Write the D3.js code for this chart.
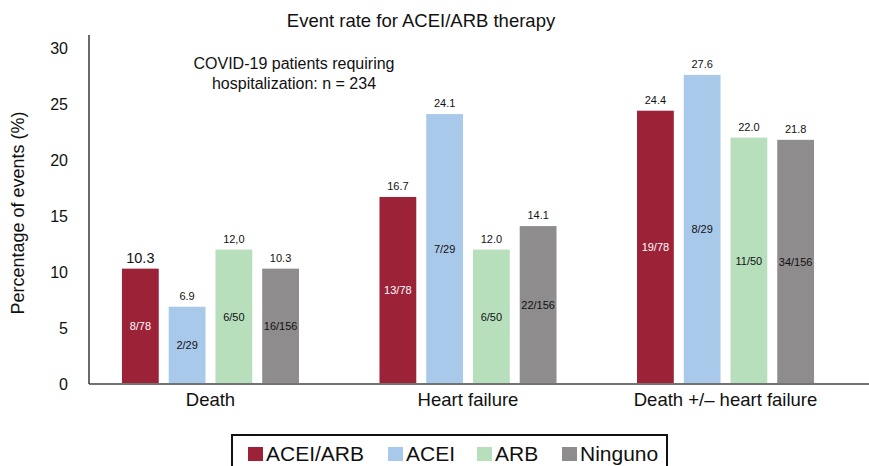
<!DOCTYPE html>
<html>
<head>
<meta charset="utf-8">
<script src="https://cdn.jsdelivr.net/npm/d3@7"></script>
<style>
  body { margin: 0; background: #fff; }
  text { font-family: "Liberation Sans", Arial, sans-serif; fill: #111; }
</style>
</head>
<body>
<svg width="869" height="466"></svg>
<script>
// data
let categories = ["Death", "Heart failure", "Death +/\u2013 heart failure"];
let series = ["ACEI/ARB", "ACEI", "ARB", "Ninguno"];
let colors = ["#9c2238", "#a9c9ea", "#b8dfbc", "#8e8c8d"];
// values[category][series]
let values = [
  [10.3, 6.9, 12.0, 10.3],
  [16.7, 24.1, 12.0, 14.1],
  [24.4, 27.6, 22.0, 21.8]
];
let valueLabels = [
  ["10.3", "6.9", "12,0", "10.3"],
  ["16.7", "24.1", "12.0", "14.1"],
  ["24.4", "27.6", "22.0", "21.8"]
];
let counts = [
  ["8/78", "2/29", "6/50", "16/156"],
  ["13/78", "7/29", "6/50", "22/156"],
  ["19/78", "8/29", "11/50", "34/156"]
];
let yTicks = [0, 5, 10, 15, 20, 25, 30];

let svg = d3.select("svg");
let plotLeft = 89, plotBottom = 384, plotTop = 48;

let y = d3.scaleLinear().domain([0, 30]).range([plotBottom, plotTop]);
let x0 = d3.scaleBand().domain(categories).range([plotLeft, 847])
  .paddingInner(0.3126).paddingOuter(0.128);
let x1 = d3.scaleBand().domain(series).range([0, x0.bandwidth()])
  .paddingInner(0.213).paddingOuter(0);

// title
svg.append("text").attr("x", 421).attr("y", 27)
  .attr("text-anchor", "middle").style("font-size", "18.5px")
  .text("Event rate for ACEI/ARB therapy");

// annotation
svg.append("text").attr("x", 294).attr("y", 69)
  .attr("text-anchor", "middle").style("font-size", "16px")
  .text("COVID-19 patients requiring");
svg.append("text").attr("x", 294).attr("y", 89)
  .attr("text-anchor", "middle").style("font-size", "16px")
  .text("hospitalization: n = 234");

// y axis
let yAxis = svg.append("g").attr("transform", "translate(" + plotLeft + ",0)")
  .call(d3.axisLeft(y).tickValues(yTicks).tickSize(0).tickPadding(21));
yAxis.select(".domain").remove();
yAxis.selectAll("text").style("font-size", "16px").style("fill", "#111")
  .style("font-family", "Liberation Sans, Arial, sans-serif");
svg.append("line").attr("x1", plotLeft).attr("x2", plotLeft).attr("y1", 35).attr("y2", plotBottom)
  .attr("stroke", "#444").attr("stroke-width", 1.6);

// x axis line and category labels
svg.append("line").attr("x1", plotLeft).attr("x2", 869).attr("y1", plotBottom).attr("y2", plotBottom)
  .attr("stroke", "#444").attr("stroke-width", 1.6);
svg.append("g").selectAll("text").data(categories).enter().append("text")
  .attr("x", (d) => x0(d) + x0.bandwidth() / 2)
  .attr("y", 406)
  .attr("text-anchor", "middle").style("font-size", "18.5px")
  .text((d) => d);

// y label
svg.append("text")
  .attr("transform", "translate(24,213) rotate(-90)")
  .attr("text-anchor", "middle").style("font-size", "18px")
  .text("Percentage of events (%)");

// bars
let groups = svg.append("g").selectAll("g").data(categories).enter().append("g")
  .attr("transform", (d) => "translate(" + x0(d) + ",0)");

groups.each(function (c, ci) {
  let g = d3.select(this);
  series.forEach(function (s, si) {
    let v = values[ci][si];
    g.append("rect")
      .attr("x", x1(s)).attr("width", x1.bandwidth())
      .attr("y", y(v)).attr("height", plotBottom - y(v) - 1)
      .attr("fill", colors[si]);
    let big = ci === 0 && si === 0;
    g.append("text")
      .attr("x", x1(s) + x1.bandwidth() / 2)
      .attr("y", y(v) - (big ? 6 : 7))
      .attr("text-anchor", "middle")
      .style("font-size", big ? "14.5px" : "11px")
      .text(valueLabels[ci][si]);
    g.append("text")
      .attr("x", x1(s) + x1.bandwidth() / 2)
      .attr("y", y(v / 2) + 4)
      .attr("text-anchor", "middle")
      .style("font-size", "11px")
      .style("fill", si === 0 ? "#fff" : "#111")
      .text(counts[ci][si]);
  });
});

// legend
let legend = svg.append("g");
legend.append("rect").attr("x", 232).attr("y", 435).attr("width", 435).attr("height", 40)
  .attr("fill", "none").attr("stroke", "#111").attr("stroke-width", 2);
let legX = [248, 388, 477, 562];
series.forEach(function (s, i) {
  legend.append("rect").attr("x", legX[i]).attr("y", 447).attr("width", 15).attr("height", 14)
    .attr("fill", colors[i]);
  legend.append("text").attr("x", legX[i] + 18).attr("y", 461)
    .style("font-size", "21px").text(s);
});
</script>
</body>
</html>
